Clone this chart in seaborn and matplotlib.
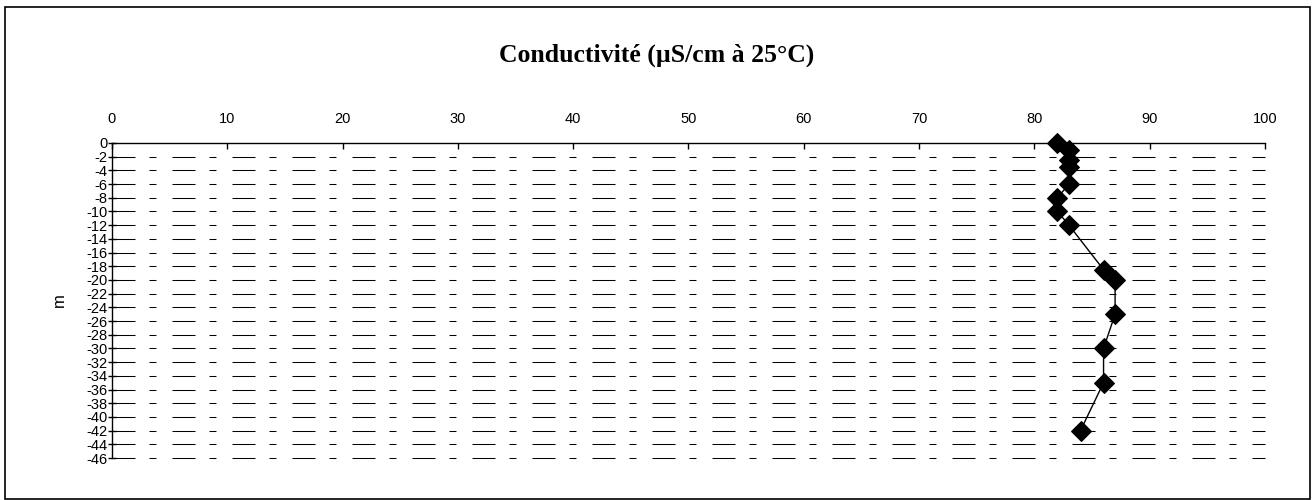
import numpy as np
import pandas as pd
import matplotlib
matplotlib.use("Agg")
import matplotlib.pyplot as plt
import seaborn as sns
from matplotlib.patches import Rectangle

# profil de conductivité
profondeur = [0, -1, -2.5, -3.5, -6, -8, -10, -12, -18.5, -20, -25, -30, -35, -42]
conductivite = [82, 83, 83, 83, 83, 82, 82, 83, 86, 87, 87, 86, 86, 84]
x_ticks = list(range(0, 101, 10))
y_ticks = list(range(0, -47, -2))

df = pd.DataFrame({"cond": conductivite, "prof": profondeur})

sns.set_style("white")
plt.rcParams["font.family"] = ["Liberation Sans", "DejaVu Sans"]
plt.rcParams["text.color"] = "black"
plt.rcParams["axes.labelcolor"] = "black"
plt.rcParams["xtick.color"] = "black"
plt.rcParams["ytick.color"] = "black"

fig = plt.figure(figsize=(13.14, 5.0), dpi=100)
ax = fig.add_axes([0.0852, 0.084, 0.8775, 0.63])

# grille horizontale pointillée (long - court)
for yv in y_ticks[1:]:
    ax.axhline(yv, color="black", lw=0.75, dashes=(22.1, 13.4, 6.7, 15.4),
               zorder=0, clip_on=False)

sns.lineplot(data=df, x="cond", y="prof", sort=False, estimator=None,
             color="black", lw=1, marker="D", markersize=10.5,
             markeredgecolor="black", clip_on=False, ax=ax)

ax.set_xlim(0, 100)
ax.set_ylim(-46, 0)
ax.set_xticks(x_ticks)
ax.set_yticks(y_ticks)
ax.set_yticklabels([str(v) for v in y_ticks])
ax.xaxis.tick_top()
ax.tick_params(axis="x", direction="in", length=4, width=1, color="black",
               labelsize=10.5, labelcolor="black", pad=12, top=True, bottom=False)
ax.tick_params(axis="y", direction="inout", length=6, width=1, color="black",
               labelsize=10.5, labelcolor="black", pad=0, left=True)
ax.set_xlabel("")
ax.set_ylabel("m", fontsize=12, labelpad=14, color="black")

for side in ["right", "bottom"]:
    ax.spines[side].set_visible(False)
for side in ["top", "left"]:
    ax.spines[side].set_color("black")
    ax.spines[side].set_linewidth(1)

fig.text(0.5, 0.89, "Conductivité (µS/cm à 25°C)", ha="center", va="center",
         fontsize=18.5, fontweight="bold", color="black",
         family=["Liberation Serif", "DejaVu Serif"])

fig.patches.append(Rectangle((5 / 1314, 1 / 500), 1305 / 1314, 492 / 500,
                             transform=fig.transFigure, fill=False,
                             edgecolor="black", lw=1.2))

fig.savefig("out.png", dpi=100)
